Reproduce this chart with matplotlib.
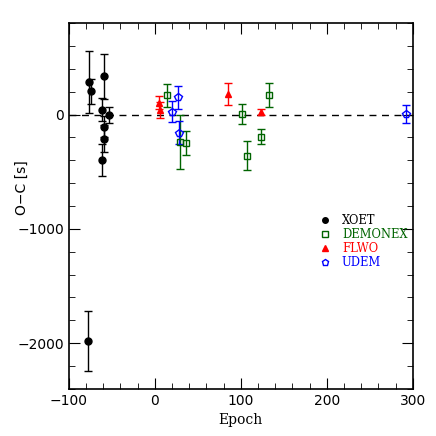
import matplotlib
matplotlib.use("Agg")
import matplotlib.pyplot as plt
from matplotlib.ticker import MultipleLocator

# XOET
xoet_epoch = [-77, -74, -59, -61, -53, -59, -59, -61, -78]
xoet_oc = [285, 205, 333, 44, -5, -105, -210, -400, -1980]
xoet_err = [270, 110, 195, 100, 70, 90, 120, 140, 265]

# DEMONEX
demo_epoch = [14, 29, 36, 101, 107, 123, 133]
demo_oc = [167, -240, -250, 5, -360, -195, 175]
demo_err = [100, 240, 105, 90, 125, 65, 105]

# FLWO
flwo_epoch = [5, 6, 85, 123]
flwo_oc = [105, 44, 180, 20]
flwo_err = [60, 70, 95, 25]

# UDEM
udem_epoch = [20, 27, 28, 292]
udem_oc = [26, 150, -160, 5]
udem_err = [90, 100, 100, 80]

fig = plt.figure(figsize=(4.36, 4.36), dpi=100)
ax = fig.add_axes([0.158, 0.108, 0.789, 0.839])

ax.axhline(0, color='k', ls=(0, (5, 4)), lw=1.0, zorder=1)

ms = 5
ax.errorbar(xoet_epoch, xoet_oc, yerr=xoet_err, fmt='o', color='k',
            ms=ms, capsize=3, elinewidth=1, label='XOET')
ax.errorbar(demo_epoch, demo_oc, yerr=demo_err, fmt='s', color='#006400',
            mfc='none', ms=ms, capsize=3, elinewidth=1, label='DEMONEX')
ax.errorbar(flwo_epoch, flwo_oc, yerr=flwo_err, fmt='^', color='red',
            ms=ms, capsize=3, elinewidth=1, label='FLWO')
ax.errorbar(udem_epoch, udem_oc, yerr=udem_err, fmt='p', color='blue',
            mfc='none', ms=ms + 1, capsize=3, elinewidth=1, label='UDEM')

ax.set_xlim(-100, 300)
ax.set_ylim(-2400, 800)
ax.xaxis.set_major_locator(MultipleLocator(100))
ax.xaxis.set_minor_locator(MultipleLocator(20))
ax.yaxis.set_major_locator(MultipleLocator(1000))
ax.yaxis.set_minor_locator(MultipleLocator(200))
ax.tick_params(which='both', direction='in', top=True, right=True, labelsize=10)
ax.tick_params(which='major', length=8)
ax.tick_params(which='minor', length=4)
for s in ax.spines.values():
    s.set_linewidth(1.2)

ax.set_xlabel('Epoch', family='DejaVu Serif', fontsize=10)
ax.set_ylabel('O\u2212C [s]', fontsize=10)
ax.yaxis.set_label_coords(-0.115, 0.55)

handles, labels = ax.get_legend_handles_labels()
handles = [h[0] for h in handles]
leg = ax.legend(handles, labels, loc='center left', bbox_to_anchor=(0.71, 0.403),
                frameon=False, handlelength=1.0, handletextpad=1.0,
                labelspacing=0.1, borderpad=0, markerscale=0.8,
                prop={'family': 'DejaVu Serif', 'size': 8.3})
for t, c in zip(leg.get_texts(), ['k', '#006400', 'red', 'blue']):
    t.set_color(c)

fig.savefig('out.png', dpi=100)
